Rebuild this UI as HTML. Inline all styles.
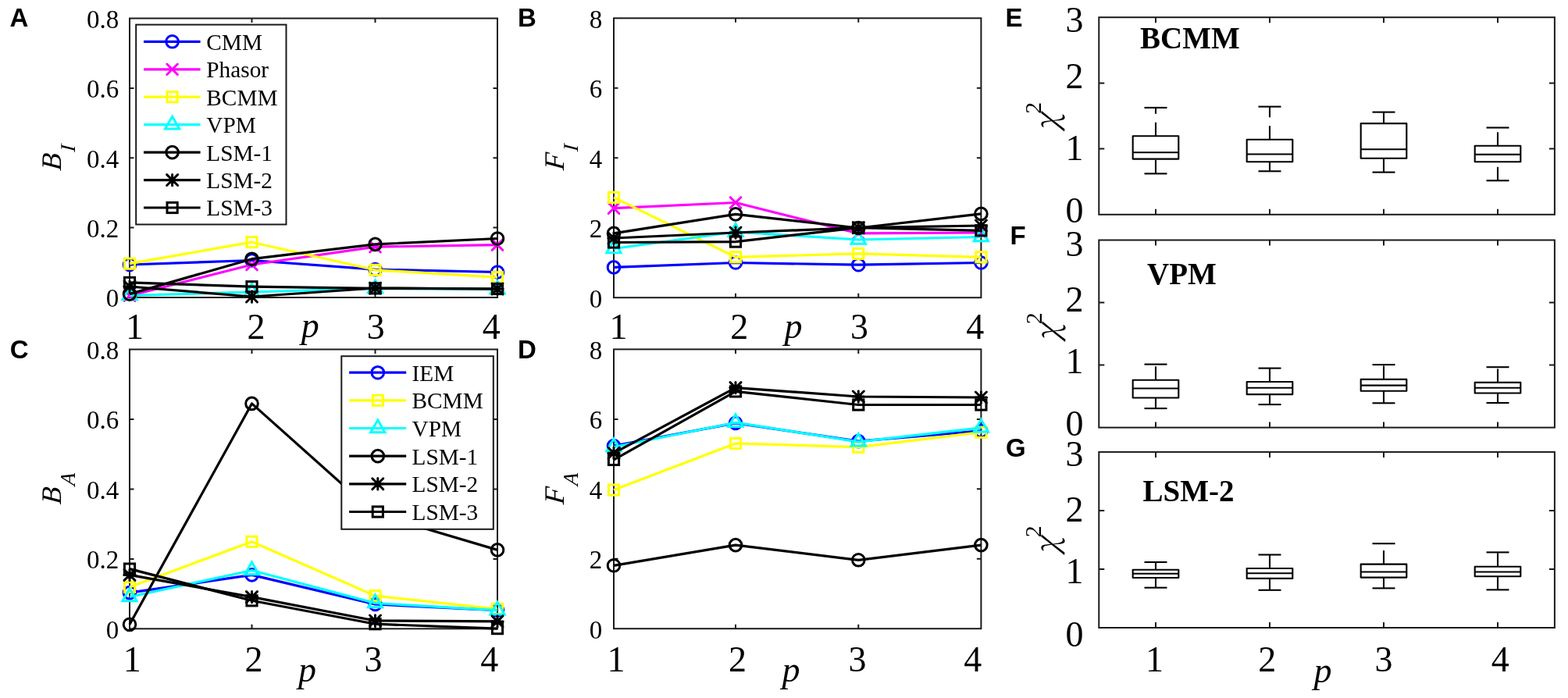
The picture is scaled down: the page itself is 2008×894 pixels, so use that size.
<!DOCTYPE html>
<html><head><meta charset="utf-8"><title>Figure</title>
<style>html,body{margin:0;padding:0;background:#fff;width:2008px;height:894px;overflow:hidden}svg{display:block}</style>
</head><body><svg width="2008" height="894" viewBox="0 0 2008 894"><text x="12.5" y="33.8" font-family="'Liberation Sans',Arial,sans-serif" font-size="33" font-weight="bold" font-style="normal" text-anchor="start" >A</text><text x="663.0" y="33.6" font-family="'Liberation Sans',Arial,sans-serif" font-size="33" font-weight="bold" font-style="normal" text-anchor="start" >B</text><text x="12.8" y="458.5" font-family="'Liberation Sans',Arial,sans-serif" font-size="33" font-weight="bold" font-style="normal" text-anchor="start" >C</text><text x="663.1" y="458.7" font-family="'Liberation Sans',Arial,sans-serif" font-size="33" font-weight="bold" font-style="normal" text-anchor="start" >D</text><text x="1287.5" y="33.6" font-family="'Liberation Sans',Arial,sans-serif" font-size="33" font-weight="bold" font-style="normal" text-anchor="start" >E</text><text x="1293.6" y="312.7" font-family="'Liberation Sans',Arial,sans-serif" font-size="33" font-weight="bold" font-style="normal" text-anchor="start" >F</text><text x="1288.0" y="585.2" font-family="'Liberation Sans',Arial,sans-serif" font-size="33" font-weight="bold" font-style="normal" text-anchor="start" >G</text><rect x="166" y="23.5" width="471" height="357.5" fill="none" stroke="#1a1a1a" stroke-width="2.0"/><path d="M166,291.6h5.5M637,291.6h-5.5M166,202.2h5.5M637,202.2h-5.5M166,112.9h5.5M637,112.9h-5.5M322.5,381v-5.5M322.5,23.5v5.5M480.5,381v-5.5M480.5,23.5v5.5" stroke="#1a1a1a" stroke-width="2.0" fill="none"/><rect x="786" y="23.3" width="470.4000000000001" height="357.9" fill="none" stroke="#1a1a1a" stroke-width="2.0"/><path d="M786,291.7h5.5M1256.4,291.7h-5.5M786,202.2h5.5M1256.4,202.2h-5.5M786,112.8h5.5M1256.4,112.8h-5.5M942.0,381.2v-5.5M942.0,23.3v5.5M1099.3,381.2v-5.5M1099.3,23.3v5.5" stroke="#1a1a1a" stroke-width="2.0" fill="none"/><rect x="166" y="447.5" width="471" height="357.79999999999995" fill="none" stroke="#1a1a1a" stroke-width="2.0"/><path d="M166,715.9h5.5M637,715.9h-5.5M166,626.4h5.5M637,626.4h-5.5M166,537.0h5.5M637,537.0h-5.5M322.5,805.3v-5.5M322.5,447.5v5.5M480.5,805.3v-5.5M480.5,447.5v5.5" stroke="#1a1a1a" stroke-width="2.0" fill="none"/><rect x="786" y="447.4" width="470.4000000000001" height="357.80000000000007" fill="none" stroke="#1a1a1a" stroke-width="2.0"/><path d="M786,715.8h5.5M1256.4,715.8h-5.5M786,626.3h5.5M1256.4,626.3h-5.5M786,536.9h5.5M1256.4,536.9h-5.5M942.0,805.2v-5.5M942.0,447.4v5.5M1099.3,805.2v-5.5M1099.3,447.4v5.5" stroke="#1a1a1a" stroke-width="2.0" fill="none"/><defs><clipPath id="cA"><rect x="160" y="0" width="490" height="395"/></clipPath></defs><g><polyline points="166.0,339.0 322.5,333.5 480.5,345.1 637.0,348.5" fill="none" stroke="#0000ff" stroke-width="3.2" stroke-linejoin="round"/><circle cx="166.0" cy="339.0" r="7.8" fill="none" stroke="#0000ff" stroke-width="3.0"/><circle cx="322.5" cy="333.5" r="7.8" fill="none" stroke="#0000ff" stroke-width="3.0"/><circle cx="480.5" cy="345.1" r="7.8" fill="none" stroke="#0000ff" stroke-width="3.0"/><circle cx="637.0" cy="348.5" r="7.8" fill="none" stroke="#0000ff" stroke-width="3.0"/><polyline points="166.0,378.7 322.5,339.0 480.5,316.2 637.0,313.6" fill="none" stroke="#ff00ff" stroke-width="3.2" stroke-linejoin="round"/><path d="M159.2,371.9L172.8,385.5M159.2,385.5L172.8,371.9" stroke="#ff00ff" stroke-width="3.0" fill="none" stroke-linecap="round"/><path d="M315.7,332.2L329.3,345.8M315.7,345.8L329.3,332.2" stroke="#ff00ff" stroke-width="3.0" fill="none" stroke-linecap="round"/><path d="M473.7,309.4L487.3,323.0M473.7,323.0L487.3,309.4" stroke="#ff00ff" stroke-width="3.0" fill="none" stroke-linecap="round"/><path d="M630.2,306.8L643.8,320.4M630.2,320.4L643.8,306.8" stroke="#ff00ff" stroke-width="3.0" fill="none" stroke-linecap="round"/><polyline points="166.0,337.7 322.5,310.2 480.5,345.8 637.0,355.2" fill="none" stroke="#ffff00" stroke-width="3.2" stroke-linejoin="round"/><rect x="159.4" y="331.1" width="13.2" height="13.2" fill="none" stroke="#ffff00" stroke-width="3.0"/><rect x="315.9" y="303.6" width="13.2" height="13.2" fill="none" stroke="#ffff00" stroke-width="3.0"/><rect x="473.9" y="339.2" width="13.2" height="13.2" fill="none" stroke="#ffff00" stroke-width="3.0"/><rect x="630.4" y="348.6" width="13.2" height="13.2" fill="none" stroke="#ffff00" stroke-width="3.0"/><polyline points="166.0,378.5 322.5,374.0 480.5,369.5 637.0,370.5" fill="none" stroke="#00ffff" stroke-width="3.2" stroke-linejoin="round"/><polygon points="166.0,368.0 175.1,383.8 156.9,383.8" fill="none" stroke="#00ffff" stroke-width="3.0" stroke-linejoin="miter"/><polygon points="322.5,363.5 331.6,379.2 313.4,379.2" fill="none" stroke="#00ffff" stroke-width="3.0" stroke-linejoin="miter"/><polygon points="480.5,359.0 489.6,374.8 471.4,374.8" fill="none" stroke="#00ffff" stroke-width="3.0" stroke-linejoin="miter"/><polygon points="637.0,360.0 646.1,375.8 627.9,375.8" fill="none" stroke="#00ffff" stroke-width="3.0" stroke-linejoin="miter"/><polyline points="166.0,376.6 322.5,331.7 480.5,312.9 637.0,305.5" fill="none" stroke="#000000" stroke-width="3.2" stroke-linejoin="round"/><circle cx="166.0" cy="376.6" r="7.8" fill="none" stroke="#000000" stroke-width="3.0"/><circle cx="322.5" cy="331.7" r="7.8" fill="none" stroke="#000000" stroke-width="3.0"/><circle cx="480.5" cy="312.9" r="7.8" fill="none" stroke="#000000" stroke-width="3.0"/><circle cx="637.0" cy="305.5" r="7.8" fill="none" stroke="#000000" stroke-width="3.0"/><polyline points="166.0,367.0 322.5,380.0 480.5,369.0 637.0,370.0" fill="none" stroke="#000000" stroke-width="3.2" stroke-linejoin="round"/><path d="M158.8,367.0L173.2,367.0M166.0,359.8L166.0,374.2M159.0,360.0L173.0,374.0M159.0,374.0L173.0,360.0" stroke="#000000" stroke-width="3.0" fill="none" stroke-linecap="round"/><path d="M315.3,380.0L329.7,380.0M322.5,372.8L322.5,387.2M315.5,373.0L329.5,387.0M315.5,387.0L329.5,373.0" stroke="#000000" stroke-width="3.0" fill="none" stroke-linecap="round"/><path d="M473.3,369.0L487.7,369.0M480.5,361.8L480.5,376.2M473.5,362.0L487.5,376.0M473.5,376.0L487.5,362.0" stroke="#000000" stroke-width="3.0" fill="none" stroke-linecap="round"/><path d="M629.8,370.0L644.2,370.0M637.0,362.8L637.0,377.2M630.0,363.0L644.0,377.0M630.0,377.0L644.0,363.0" stroke="#000000" stroke-width="3.0" fill="none" stroke-linecap="round"/><polyline points="166.0,361.9 322.5,367.2 480.5,369.3 637.0,370.0" fill="none" stroke="#000000" stroke-width="3.2" stroke-linejoin="round"/><rect x="159.4" y="355.3" width="13.2" height="13.2" fill="none" stroke="#000000" stroke-width="3.0"/><rect x="315.9" y="360.6" width="13.2" height="13.2" fill="none" stroke="#000000" stroke-width="3.0"/><rect x="473.9" y="362.7" width="13.2" height="13.2" fill="none" stroke="#000000" stroke-width="3.0"/><rect x="630.4" y="363.4" width="13.2" height="13.2" fill="none" stroke="#000000" stroke-width="3.0"/></g><g><polyline points="786.0,342.4 942.0,336.5 1099.3,339.2 1256.4,336.5" fill="none" stroke="#0000ff" stroke-width="3.2" stroke-linejoin="round"/><circle cx="786.0" cy="342.4" r="7.8" fill="none" stroke="#0000ff" stroke-width="3.0"/><circle cx="942.0" cy="336.5" r="7.8" fill="none" stroke="#0000ff" stroke-width="3.0"/><circle cx="1099.3" cy="339.2" r="7.8" fill="none" stroke="#0000ff" stroke-width="3.0"/><circle cx="1256.4" cy="336.5" r="7.8" fill="none" stroke="#0000ff" stroke-width="3.0"/><polyline points="786.0,266.7 942.0,259.5 1099.3,298.9 1256.4,298.0" fill="none" stroke="#ff00ff" stroke-width="3.2" stroke-linejoin="round"/><path d="M779.2,259.9L792.8,273.5M779.2,273.5L792.8,259.9" stroke="#ff00ff" stroke-width="3.0" fill="none" stroke-linecap="round"/><path d="M935.2,252.7L948.8,266.3M935.2,266.3L948.8,252.7" stroke="#ff00ff" stroke-width="3.0" fill="none" stroke-linecap="round"/><path d="M1092.5,292.1L1106.1,305.7M1092.5,305.7L1106.1,292.1" stroke="#ff00ff" stroke-width="3.0" fill="none" stroke-linecap="round"/><path d="M1249.6,291.2L1263.2,304.8M1249.6,304.8L1263.2,291.2" stroke="#ff00ff" stroke-width="3.0" fill="none" stroke-linecap="round"/><polyline points="786.0,252.9 942.0,329.3 1099.3,324.9 1256.4,329.3" fill="none" stroke="#ffff00" stroke-width="3.2" stroke-linejoin="round"/><rect x="779.4" y="246.3" width="13.2" height="13.2" fill="none" stroke="#ffff00" stroke-width="3.0"/><rect x="935.4" y="322.7" width="13.2" height="13.2" fill="none" stroke="#ffff00" stroke-width="3.0"/><rect x="1092.7" y="318.3" width="13.2" height="13.2" fill="none" stroke="#ffff00" stroke-width="3.0"/><rect x="1249.8" y="322.7" width="13.2" height="13.2" fill="none" stroke="#ffff00" stroke-width="3.0"/><polyline points="786.0,318.5 942.0,297.0 1099.3,307.0 1256.4,303.5" fill="none" stroke="#00ffff" stroke-width="3.2" stroke-linejoin="round"/><polygon points="786.0,308.0 795.1,323.8 776.9,323.8" fill="none" stroke="#00ffff" stroke-width="3.0" stroke-linejoin="miter"/><polygon points="942.0,286.5 951.1,302.2 932.9,302.2" fill="none" stroke="#00ffff" stroke-width="3.0" stroke-linejoin="miter"/><polygon points="1099.3,296.5 1108.4,312.2 1090.2,312.2" fill="none" stroke="#00ffff" stroke-width="3.0" stroke-linejoin="miter"/><polygon points="1256.4,293.0 1265.5,308.8 1247.3,308.8" fill="none" stroke="#00ffff" stroke-width="3.0" stroke-linejoin="miter"/><polyline points="786.0,298.9 942.0,274.4 1099.3,292.0 1256.4,273.9" fill="none" stroke="#000000" stroke-width="3.2" stroke-linejoin="round"/><circle cx="786.0" cy="298.9" r="7.8" fill="none" stroke="#000000" stroke-width="3.0"/><circle cx="942.0" cy="274.4" r="7.8" fill="none" stroke="#000000" stroke-width="3.0"/><circle cx="1099.3" cy="292.0" r="7.8" fill="none" stroke="#000000" stroke-width="3.0"/><circle cx="1256.4" cy="273.9" r="7.8" fill="none" stroke="#000000" stroke-width="3.0"/><polyline points="786.0,305.0 942.0,298.0 1099.3,291.7 1256.4,289.0" fill="none" stroke="#000000" stroke-width="3.2" stroke-linejoin="round"/><path d="M778.8,305.0L793.2,305.0M786.0,297.8L786.0,312.2M779.0,298.0L793.0,312.0M779.0,312.0L793.0,298.0" stroke="#000000" stroke-width="3.0" fill="none" stroke-linecap="round"/><path d="M934.8,298.0L949.2,298.0M942.0,290.8L942.0,305.2M935.0,291.0L949.0,305.0M935.0,305.0L949.0,291.0" stroke="#000000" stroke-width="3.0" fill="none" stroke-linecap="round"/><path d="M1092.1,291.7L1106.5,291.7M1099.3,284.5L1099.3,298.9M1092.3,284.7L1106.3,298.7M1092.3,298.7L1106.3,284.7" stroke="#000000" stroke-width="3.0" fill="none" stroke-linecap="round"/><path d="M1249.2,289.0L1263.6,289.0M1256.4,281.8L1256.4,296.2M1249.4,282.0L1263.4,296.0M1249.4,296.0L1263.4,282.0" stroke="#000000" stroke-width="3.0" fill="none" stroke-linecap="round"/><polyline points="786.0,310.5 942.0,309.6 1099.3,291.7 1256.4,295.3" fill="none" stroke="#000000" stroke-width="3.2" stroke-linejoin="round"/><rect x="779.4" y="303.9" width="13.2" height="13.2" fill="none" stroke="#000000" stroke-width="3.0"/><rect x="935.4" y="303.0" width="13.2" height="13.2" fill="none" stroke="#000000" stroke-width="3.0"/><rect x="1092.7" y="285.1" width="13.2" height="13.2" fill="none" stroke="#000000" stroke-width="3.0"/><rect x="1249.8" y="288.7" width="13.2" height="13.2" fill="none" stroke="#000000" stroke-width="3.0"/></g><g><polyline points="166.0,759.1 322.5,736.4 480.5,774.0 637.0,781.6" fill="none" stroke="#0000ff" stroke-width="3.2" stroke-linejoin="round"/><circle cx="166.0" cy="759.1" r="7.8" fill="none" stroke="#0000ff" stroke-width="3.0"/><circle cx="322.5" cy="736.4" r="7.8" fill="none" stroke="#0000ff" stroke-width="3.0"/><circle cx="480.5" cy="774.0" r="7.8" fill="none" stroke="#0000ff" stroke-width="3.0"/><circle cx="637.0" cy="781.6" r="7.8" fill="none" stroke="#0000ff" stroke-width="3.0"/><polyline points="166.0,752.0 322.5,693.8 480.5,763.1 637.0,780.0" fill="none" stroke="#ffff00" stroke-width="3.2" stroke-linejoin="round"/><rect x="159.4" y="745.4" width="13.2" height="13.2" fill="none" stroke="#ffff00" stroke-width="3.0"/><rect x="315.9" y="687.2" width="13.2" height="13.2" fill="none" stroke="#ffff00" stroke-width="3.0"/><rect x="473.9" y="756.5" width="13.2" height="13.2" fill="none" stroke="#ffff00" stroke-width="3.0"/><rect x="630.4" y="773.4" width="13.2" height="13.2" fill="none" stroke="#ffff00" stroke-width="3.0"/><polyline points="166.0,764.5 322.5,730.5 480.5,772.5 637.0,781.7" fill="none" stroke="#00ffff" stroke-width="3.2" stroke-linejoin="round"/><polygon points="166.0,754.0 175.1,769.8 156.9,769.8" fill="none" stroke="#00ffff" stroke-width="3.0" stroke-linejoin="miter"/><polygon points="322.5,720.0 331.6,735.8 313.4,735.8" fill="none" stroke="#00ffff" stroke-width="3.0" stroke-linejoin="miter"/><polygon points="480.5,762.0 489.6,777.8 471.4,777.8" fill="none" stroke="#00ffff" stroke-width="3.0" stroke-linejoin="miter"/><polygon points="637.0,771.2 646.1,787.0 627.9,787.0" fill="none" stroke="#00ffff" stroke-width="3.0" stroke-linejoin="miter"/><polyline points="166.0,799.8 322.5,516.9 480.5,658.0 637.0,704.4" fill="none" stroke="#000000" stroke-width="3.2" stroke-linejoin="round"/><circle cx="166.0" cy="799.8" r="7.8" fill="none" stroke="#000000" stroke-width="3.0"/><circle cx="322.5" cy="516.9" r="7.8" fill="none" stroke="#000000" stroke-width="3.0"/><circle cx="480.5" cy="658.0" r="7.8" fill="none" stroke="#000000" stroke-width="3.0"/><circle cx="637.0" cy="704.4" r="7.8" fill="none" stroke="#000000" stroke-width="3.0"/><polyline points="166.0,736.4 322.5,764.6 480.5,795.0 637.0,795.9" fill="none" stroke="#000000" stroke-width="3.2" stroke-linejoin="round"/><path d="M158.8,736.4L173.2,736.4M166.0,729.2L166.0,743.6M159.0,729.4L173.0,743.4M159.0,743.4L173.0,729.4" stroke="#000000" stroke-width="3.0" fill="none" stroke-linecap="round"/><path d="M315.3,764.6L329.7,764.6M322.5,757.4L322.5,771.8M315.5,757.6L329.5,771.6M315.5,771.6L329.5,757.6" stroke="#000000" stroke-width="3.0" fill="none" stroke-linecap="round"/><path d="M473.3,795.0L487.7,795.0M480.5,787.8L480.5,802.2M473.5,788.0L487.5,802.0M473.5,802.0L487.5,788.0" stroke="#000000" stroke-width="3.0" fill="none" stroke-linecap="round"/><path d="M629.8,795.9L644.2,795.9M637.0,788.7L637.0,803.1M630.0,788.9L644.0,802.9M630.0,802.9L644.0,788.9" stroke="#000000" stroke-width="3.0" fill="none" stroke-linecap="round"/><polyline points="166.0,728.6 322.5,769.3 480.5,799.2 637.0,805.1" fill="none" stroke="#000000" stroke-width="3.2" stroke-linejoin="round"/><rect x="159.4" y="722.0" width="13.2" height="13.2" fill="none" stroke="#000000" stroke-width="3.0"/><rect x="315.9" y="762.7" width="13.2" height="13.2" fill="none" stroke="#000000" stroke-width="3.0"/><rect x="473.9" y="792.6" width="13.2" height="13.2" fill="none" stroke="#000000" stroke-width="3.0"/><rect x="630.4" y="798.5" width="13.2" height="13.2" fill="none" stroke="#000000" stroke-width="3.0"/></g><g><polyline points="786.0,571.0 942.0,541.9 1099.3,565.1 1256.4,551.8" fill="none" stroke="#0000ff" stroke-width="3.2" stroke-linejoin="round"/><circle cx="786.0" cy="571.0" r="7.8" fill="none" stroke="#0000ff" stroke-width="3.0"/><circle cx="942.0" cy="541.9" r="7.8" fill="none" stroke="#0000ff" stroke-width="3.0"/><circle cx="1099.3" cy="565.1" r="7.8" fill="none" stroke="#0000ff" stroke-width="3.0"/><circle cx="1256.4" cy="551.8" r="7.8" fill="none" stroke="#0000ff" stroke-width="3.0"/><polyline points="786.0,627.5 942.0,567.9 1099.3,572.7 1256.4,553.7" fill="none" stroke="#ffff00" stroke-width="3.2" stroke-linejoin="round"/><rect x="779.4" y="620.9" width="13.2" height="13.2" fill="none" stroke="#ffff00" stroke-width="3.0"/><rect x="935.4" y="561.3" width="13.2" height="13.2" fill="none" stroke="#ffff00" stroke-width="3.0"/><rect x="1092.7" y="566.1" width="13.2" height="13.2" fill="none" stroke="#ffff00" stroke-width="3.0"/><rect x="1249.8" y="547.1" width="13.2" height="13.2" fill="none" stroke="#ffff00" stroke-width="3.0"/><polyline points="786.0,572.5 942.0,541.2 1099.3,565.9 1256.4,547.8" fill="none" stroke="#00ffff" stroke-width="3.2" stroke-linejoin="round"/><polygon points="786.0,562.0 795.1,577.8 776.9,577.8" fill="none" stroke="#00ffff" stroke-width="3.0" stroke-linejoin="miter"/><polygon points="942.0,530.7 951.1,546.5 932.9,546.5" fill="none" stroke="#00ffff" stroke-width="3.0" stroke-linejoin="miter"/><polygon points="1099.3,555.4 1108.4,571.1 1090.2,571.1" fill="none" stroke="#00ffff" stroke-width="3.0" stroke-linejoin="miter"/><polygon points="1256.4,537.3 1265.5,553.0 1247.3,553.0" fill="none" stroke="#00ffff" stroke-width="3.0" stroke-linejoin="miter"/><polyline points="786.0,724.3 942.0,698.1 1099.3,717.3 1256.4,698.1" fill="none" stroke="#000000" stroke-width="3.2" stroke-linejoin="round"/><circle cx="786.0" cy="724.3" r="7.8" fill="none" stroke="#000000" stroke-width="3.0"/><circle cx="942.0" cy="698.1" r="7.8" fill="none" stroke="#000000" stroke-width="3.0"/><circle cx="1099.3" cy="717.3" r="7.8" fill="none" stroke="#000000" stroke-width="3.0"/><circle cx="1256.4" cy="698.1" r="7.8" fill="none" stroke="#000000" stroke-width="3.0"/><polyline points="786.0,580.3 942.0,496.6 1099.3,508.0 1256.4,509.0" fill="none" stroke="#000000" stroke-width="3.2" stroke-linejoin="round"/><path d="M778.8,580.3L793.2,580.3M786.0,573.1L786.0,587.5M779.0,573.3L793.0,587.3M779.0,587.3L793.0,573.3" stroke="#000000" stroke-width="3.0" fill="none" stroke-linecap="round"/><path d="M934.8,496.6L949.2,496.6M942.0,489.4L942.0,503.8M935.0,489.6L949.0,503.6M935.0,503.6L949.0,489.6" stroke="#000000" stroke-width="3.0" fill="none" stroke-linecap="round"/><path d="M1092.1,508.0L1106.5,508.0M1099.3,500.8L1099.3,515.2M1092.3,501.0L1106.3,515.0M1092.3,515.0L1106.3,501.0" stroke="#000000" stroke-width="3.0" fill="none" stroke-linecap="round"/><path d="M1249.2,509.0L1263.6,509.0M1256.4,501.8L1256.4,516.2M1249.4,502.0L1263.4,516.0M1249.4,516.0L1263.4,502.0" stroke="#000000" stroke-width="3.0" fill="none" stroke-linecap="round"/><polyline points="786.0,588.9 942.0,501.4 1099.3,518.5 1256.4,518.5" fill="none" stroke="#000000" stroke-width="3.2" stroke-linejoin="round"/><rect x="779.4" y="582.3" width="13.2" height="13.2" fill="none" stroke="#000000" stroke-width="3.0"/><rect x="935.4" y="494.8" width="13.2" height="13.2" fill="none" stroke="#000000" stroke-width="3.0"/><rect x="1092.7" y="511.9" width="13.2" height="13.2" fill="none" stroke="#000000" stroke-width="3.0"/><rect x="1249.8" y="511.9" width="13.2" height="13.2" fill="none" stroke="#000000" stroke-width="3.0"/></g><rect x="174.2" y="31.6" width="192.3" height="255.9" fill="#fff" stroke="#1a1a1a" stroke-width="2.0"/><line x1="184" y1="53.3" x2="256.6" y2="53.3" stroke="#0000ff" stroke-width="3.2"/><circle cx="220.6" cy="53.3" r="7.8" fill="none" stroke="#0000ff" stroke-width="3.0"/><text x="264.3" y="63.7" font-family="'Liberation Serif','Times New Roman',serif" font-size="29.3" font-weight="normal" font-style="normal" text-anchor="start" >CMM</text><line x1="184" y1="88.8" x2="256.6" y2="88.8" stroke="#ff00ff" stroke-width="3.2"/><path d="M213.8,82.0L227.4,95.5M213.8,95.5L227.4,82.0" stroke="#ff00ff" stroke-width="3.0" fill="none" stroke-linecap="round"/><text x="264.3" y="99.2" font-family="'Liberation Serif','Times New Roman',serif" font-size="29.3" font-weight="normal" font-style="normal" text-anchor="start" >Phasor</text><line x1="184" y1="124.2" x2="256.6" y2="124.2" stroke="#ffff00" stroke-width="3.2"/><rect x="214.0" y="117.6" width="13.2" height="13.2" fill="none" stroke="#ffff00" stroke-width="3.0"/><text x="264.3" y="134.6" font-family="'Liberation Serif','Times New Roman',serif" font-size="29.3" font-weight="normal" font-style="normal" text-anchor="start" >BCMM</text><line x1="184" y1="159.7" x2="256.6" y2="159.7" stroke="#00ffff" stroke-width="3.2"/><polygon points="220.6,149.2 229.7,164.9 211.5,164.9" fill="none" stroke="#00ffff" stroke-width="3.0" stroke-linejoin="miter"/><text x="264.3" y="170.1" font-family="'Liberation Serif','Times New Roman',serif" font-size="29.3" font-weight="normal" font-style="normal" text-anchor="start" >VPM</text><line x1="184" y1="195.1" x2="256.6" y2="195.1" stroke="#000000" stroke-width="3.2"/><circle cx="220.6" cy="195.1" r="7.8" fill="none" stroke="#000000" stroke-width="3.0"/><text x="264.3" y="205.5" font-family="'Liberation Serif','Times New Roman',serif" font-size="29.3" font-weight="normal" font-style="normal" text-anchor="start" >LSM-1</text><line x1="184" y1="230.6" x2="256.6" y2="230.6" stroke="#000000" stroke-width="3.2"/><path d="M213.4,230.6L227.8,230.6M220.6,223.4L220.6,237.8M213.6,223.6L227.6,237.5M213.6,237.5L227.6,223.6" stroke="#000000" stroke-width="3.0" fill="none" stroke-linecap="round"/><text x="264.3" y="241.0" font-family="'Liberation Serif','Times New Roman',serif" font-size="29.3" font-weight="normal" font-style="normal" text-anchor="start" >LSM-2</text><line x1="184" y1="266.0" x2="256.6" y2="266.0" stroke="#000000" stroke-width="3.2"/><rect x="214.0" y="259.4" width="13.2" height="13.2" fill="none" stroke="#000000" stroke-width="3.0"/><text x="264.3" y="276.4" font-family="'Liberation Serif','Times New Roman',serif" font-size="29.3" font-weight="normal" font-style="normal" text-anchor="start" >LSM-3</text><rect x="437.3" y="456.2" width="194.49999999999994" height="221.59999999999997" fill="#fff" stroke="#1a1a1a" stroke-width="2.0"/><line x1="447.1" y1="477.2" x2="520.2" y2="477.2" stroke="#0000ff" stroke-width="3.2"/><circle cx="483.8" cy="477.2" r="7.8" fill="none" stroke="#0000ff" stroke-width="3.0"/><text x="527.5" y="487.6" font-family="'Liberation Serif','Times New Roman',serif" font-size="29.3" font-weight="normal" font-style="normal" text-anchor="start" >IEM</text><line x1="447.1" y1="512.9" x2="520.2" y2="512.9" stroke="#ffff00" stroke-width="3.2"/><rect x="477.2" y="506.2" width="13.2" height="13.2" fill="none" stroke="#ffff00" stroke-width="3.0"/><text x="527.5" y="523.2" font-family="'Liberation Serif','Times New Roman',serif" font-size="29.3" font-weight="normal" font-style="normal" text-anchor="start" >BCMM</text><line x1="447.1" y1="548.5" x2="520.2" y2="548.5" stroke="#00ffff" stroke-width="3.2"/><polygon points="483.8,538.0 492.9,553.8 474.7,553.8" fill="none" stroke="#00ffff" stroke-width="3.0" stroke-linejoin="miter"/><text x="527.5" y="558.9" font-family="'Liberation Serif','Times New Roman',serif" font-size="29.3" font-weight="normal" font-style="normal" text-anchor="start" >VPM</text><line x1="447.1" y1="584.1" x2="520.2" y2="584.1" stroke="#000000" stroke-width="3.2"/><circle cx="483.8" cy="584.1" r="7.8" fill="none" stroke="#000000" stroke-width="3.0"/><text x="527.5" y="594.5" font-family="'Liberation Serif','Times New Roman',serif" font-size="29.3" font-weight="normal" font-style="normal" text-anchor="start" >LSM-1</text><line x1="447.1" y1="619.8" x2="520.2" y2="619.8" stroke="#000000" stroke-width="3.2"/><path d="M476.6,619.8L491.0,619.8M483.8,612.6L483.8,627.0M476.8,612.8L490.8,626.8M476.8,626.8L490.8,612.8" stroke="#000000" stroke-width="3.0" fill="none" stroke-linecap="round"/><text x="527.5" y="630.2" font-family="'Liberation Serif','Times New Roman',serif" font-size="29.3" font-weight="normal" font-style="normal" text-anchor="start" >LSM-2</text><line x1="447.1" y1="655.5" x2="520.2" y2="655.5" stroke="#000000" stroke-width="3.2"/><rect x="477.2" y="648.9" width="13.2" height="13.2" fill="none" stroke="#000000" stroke-width="3.0"/><text x="527.5" y="665.9" font-family="'Liberation Serif','Times New Roman',serif" font-size="29.3" font-weight="normal" font-style="normal" text-anchor="start" >LSM-3</text><text x="152.2" y="393.4" font-family="'Liberation Serif','Times New Roman',serif" font-size="33" font-weight="normal" font-style="normal" text-anchor="end" >0</text><text x="152.2" y="304.0" font-family="'Liberation Serif','Times New Roman',serif" font-size="33" font-weight="normal" font-style="normal" text-anchor="end" >0.2</text><text x="152.2" y="214.6" font-family="'Liberation Serif','Times New Roman',serif" font-size="33" font-weight="normal" font-style="normal" text-anchor="end" >0.4</text><text x="152.2" y="125.2" font-family="'Liberation Serif','Times New Roman',serif" font-size="33" font-weight="normal" font-style="normal" text-anchor="end" >0.6</text><text x="152.2" y="35.9" font-family="'Liberation Serif','Times New Roman',serif" font-size="33" font-weight="normal" font-style="normal" text-anchor="end" >0.8</text><text x="152.2" y="817.7" font-family="'Liberation Serif','Times New Roman',serif" font-size="33" font-weight="normal" font-style="normal" text-anchor="end" >0</text><text x="152.2" y="728.2" font-family="'Liberation Serif','Times New Roman',serif" font-size="33" font-weight="normal" font-style="normal" text-anchor="end" >0.2</text><text x="152.2" y="638.8" font-family="'Liberation Serif','Times New Roman',serif" font-size="33" font-weight="normal" font-style="normal" text-anchor="end" >0.4</text><text x="152.2" y="549.3" font-family="'Liberation Serif','Times New Roman',serif" font-size="33" font-weight="normal" font-style="normal" text-anchor="end" >0.6</text><text x="152.2" y="459.9" font-family="'Liberation Serif','Times New Roman',serif" font-size="33" font-weight="normal" font-style="normal" text-anchor="end" >0.8</text><text x="771.3" y="393.6" font-family="'Liberation Serif','Times New Roman',serif" font-size="33" font-weight="normal" font-style="normal" text-anchor="end" >0</text><text x="771.3" y="304.1" font-family="'Liberation Serif','Times New Roman',serif" font-size="33" font-weight="normal" font-style="normal" text-anchor="end" >2</text><text x="771.3" y="214.6" font-family="'Liberation Serif','Times New Roman',serif" font-size="33" font-weight="normal" font-style="normal" text-anchor="end" >4</text><text x="771.3" y="125.1" font-family="'Liberation Serif','Times New Roman',serif" font-size="33" font-weight="normal" font-style="normal" text-anchor="end" >6</text><text x="771.3" y="35.7" font-family="'Liberation Serif','Times New Roman',serif" font-size="33" font-weight="normal" font-style="normal" text-anchor="end" >8</text><text x="771.3" y="817.6" font-family="'Liberation Serif','Times New Roman',serif" font-size="33" font-weight="normal" font-style="normal" text-anchor="end" >0</text><text x="771.3" y="728.1" font-family="'Liberation Serif','Times New Roman',serif" font-size="33" font-weight="normal" font-style="normal" text-anchor="end" >2</text><text x="771.3" y="638.7" font-family="'Liberation Serif','Times New Roman',serif" font-size="33" font-weight="normal" font-style="normal" text-anchor="end" >4</text><text x="771.3" y="549.2" font-family="'Liberation Serif','Times New Roman',serif" font-size="33" font-weight="normal" font-style="normal" text-anchor="end" >6</text><text x="771.3" y="459.8" font-family="'Liberation Serif','Times New Roman',serif" font-size="33" font-weight="normal" font-style="normal" text-anchor="end" >8</text><text x="172.4" y="433.6" font-family="'Liberation Serif','Times New Roman',serif" font-size="46" font-weight="normal" font-style="normal" text-anchor="middle" >1</text><text x="328.0" y="433.6" font-family="'Liberation Serif','Times New Roman',serif" font-size="46" font-weight="normal" font-style="normal" text-anchor="middle" >2</text><text x="481.2" y="433.6" font-family="'Liberation Serif','Times New Roman',serif" font-size="46" font-weight="normal" font-style="normal" text-anchor="middle" >3</text><text x="629.3" y="433.6" font-family="'Liberation Serif','Times New Roman',serif" font-size="46" font-weight="normal" font-style="normal" text-anchor="middle" >4</text><text x="385.8" y="432.0" font-family="'Liberation Serif','Times New Roman',serif" font-size="46" font-weight="normal" font-style="italic" text-anchor="start" >p</text><text x="169.3" y="859.8" font-family="'Liberation Serif','Times New Roman',serif" font-size="46" font-weight="normal" font-style="normal" text-anchor="middle" >1</text><text x="325.1" y="859.8" font-family="'Liberation Serif','Times New Roman',serif" font-size="46" font-weight="normal" font-style="normal" text-anchor="middle" >2</text><text x="478.0" y="859.8" font-family="'Liberation Serif','Times New Roman',serif" font-size="46" font-weight="normal" font-style="normal" text-anchor="middle" >3</text><text x="626.8" y="859.8" font-family="'Liberation Serif','Times New Roman',serif" font-size="46" font-weight="normal" font-style="normal" text-anchor="middle" >4</text><text x="382.0" y="873.1" font-family="'Liberation Serif','Times New Roman',serif" font-size="46" font-weight="normal" font-style="italic" text-anchor="start" >p</text><text x="792.0" y="433.6" font-family="'Liberation Serif','Times New Roman',serif" font-size="46" font-weight="normal" font-style="normal" text-anchor="middle" >1</text><text x="946.8" y="433.6" font-family="'Liberation Serif','Times New Roman',serif" font-size="46" font-weight="normal" font-style="normal" text-anchor="middle" >2</text><text x="1100.5" y="433.6" font-family="'Liberation Serif','Times New Roman',serif" font-size="46" font-weight="normal" font-style="normal" text-anchor="middle" >3</text><text x="1248.7" y="433.6" font-family="'Liberation Serif','Times New Roman',serif" font-size="46" font-weight="normal" font-style="normal" text-anchor="middle" >4</text><text x="1004.6" y="433.0" font-family="'Liberation Serif','Times New Roman',serif" font-size="46" font-weight="normal" font-style="italic" text-anchor="start" >p</text><text x="789.0" y="859.8" font-family="'Liberation Serif','Times New Roman',serif" font-size="46" font-weight="normal" font-style="normal" text-anchor="middle" >1</text><text x="944.5" y="859.8" font-family="'Liberation Serif','Times New Roman',serif" font-size="46" font-weight="normal" font-style="normal" text-anchor="middle" >2</text><text x="1098.0" y="859.8" font-family="'Liberation Serif','Times New Roman',serif" font-size="46" font-weight="normal" font-style="normal" text-anchor="middle" >3</text><text x="1245.8" y="859.8" font-family="'Liberation Serif','Times New Roman',serif" font-size="46" font-weight="normal" font-style="normal" text-anchor="middle" >4</text><text x="1001.6" y="873.1" font-family="'Liberation Serif','Times New Roman',serif" font-size="46" font-weight="normal" font-style="italic" text-anchor="start" >p</text><text transform="translate(78,219) rotate(-90) skewX(-5)" font-family="'Liberation Serif','Times New Roman',serif" font-size="36" font-style="italic">B<tspan font-size="27" dx="3.5" dy="17.7">I</tspan></text><text transform="translate(722,218.5) rotate(-90) skewX(-5)" font-family="'Liberation Serif','Times New Roman',serif" font-size="36" font-style="italic">F<tspan font-size="27" dx="3.5" dy="17.7">I</tspan></text><text transform="translate(78,646.5) rotate(-90) skewX(-5)" font-family="'Liberation Serif','Times New Roman',serif" font-size="36" font-style="italic">B<tspan font-size="27" dx="3.5" dy="17.7">A</tspan></text><text transform="translate(722,646.5) rotate(-90) skewX(-5)" font-family="'Liberation Serif','Times New Roman',serif" font-size="36" font-style="italic">F<tspan font-size="27" dx="3.5" dy="17.7">A</tspan></text><rect x="1407.3" y="22.2" width="583.6000000000001" height="252.60000000000002" fill="none" stroke="#1a1a1a" stroke-width="2.0"/><path d="M1407.3,190.6h7M1990.9,190.6h-7M1407.3,106.4h7M1990.9,106.4h-7M1480.0,274.8v-7M1480.0,22.2v7M1626.0,274.8v-7M1626.0,22.2v7M1772.0,274.8v-7M1772.0,22.2v7M1918.0,274.8v-7M1918.0,22.2v7" stroke="#1a1a1a" stroke-width="2.0" fill="none"/><text x="1387.5" y="41.4" font-family="'Liberation Serif','Times New Roman',serif" font-size="46" font-weight="normal" font-style="normal" text-anchor="end" >3</text><text x="1387.5" y="113.2" font-family="'Liberation Serif','Times New Roman',serif" font-size="46" font-weight="normal" font-style="normal" text-anchor="end" >2</text><text x="1387.5" y="204.5" font-family="'Liberation Serif','Times New Roman',serif" font-size="46" font-weight="normal" font-style="normal" text-anchor="end" >1</text><text x="1387.5" y="285.1" font-family="'Liberation Serif','Times New Roman',serif" font-size="46" font-weight="normal" font-style="normal" text-anchor="end" >0</text><rect x="1407.3" y="307.5" width="583.6000000000001" height="240.10000000000002" fill="none" stroke="#1a1a1a" stroke-width="2.0"/><path d="M1407.3,467.6h7M1990.9,467.6h-7M1407.3,387.5h7M1990.9,387.5h-7M1480.0,547.6v-7M1480.0,307.5v7M1626.0,547.6v-7M1626.0,307.5v7M1772.0,547.6v-7M1772.0,307.5v7M1918.0,547.6v-7M1918.0,307.5v7" stroke="#1a1a1a" stroke-width="2.0" fill="none"/><text x="1387.5" y="327.7" font-family="'Liberation Serif','Times New Roman',serif" font-size="46" font-weight="normal" font-style="normal" text-anchor="end" >3</text><text x="1387.5" y="398.6" font-family="'Liberation Serif','Times New Roman',serif" font-size="46" font-weight="normal" font-style="normal" text-anchor="end" >2</text><text x="1387.5" y="477.8" font-family="'Liberation Serif','Times New Roman',serif" font-size="46" font-weight="normal" font-style="normal" text-anchor="end" >1</text><text x="1387.5" y="558.4" font-family="'Liberation Serif','Times New Roman',serif" font-size="46" font-weight="normal" font-style="normal" text-anchor="end" >0</text><rect x="1407.3" y="578.9" width="583.6000000000001" height="225.10000000000002" fill="none" stroke="#1a1a1a" stroke-width="2.0"/><path d="M1407.3,729.0h7M1990.9,729.0h-7M1407.3,653.9h7M1990.9,653.9h-7M1480.0,804.0v-7M1480.0,578.9v7M1626.0,804.0v-7M1626.0,578.9v7M1772.0,804.0v-7M1772.0,578.9v7M1918.0,804.0v-7M1918.0,578.9v7" stroke="#1a1a1a" stroke-width="2.0" fill="none"/><text x="1387.5" y="596.8" font-family="'Liberation Serif','Times New Roman',serif" font-size="46" font-weight="normal" font-style="normal" text-anchor="end" >3</text><text x="1387.5" y="667.5" font-family="'Liberation Serif','Times New Roman',serif" font-size="46" font-weight="normal" font-style="normal" text-anchor="end" >2</text><text x="1387.5" y="746.5" font-family="'Liberation Serif','Times New Roman',serif" font-size="46" font-weight="normal" font-style="normal" text-anchor="end" >1</text><text x="1387.5" y="827.8" font-family="'Liberation Serif','Times New Roman',serif" font-size="46" font-weight="normal" font-style="normal" text-anchor="end" >0</text><rect x="1450.7" y="174.2" width="58.6" height="29.4" fill="none" stroke="#000000" stroke-width="2.1" stroke-linejoin="round"/><line x1="1450.7" y1="195.2" x2="1509.3" y2="195.2" stroke="#000000" stroke-width="2.1"/><line x1="1465.5" y1="137.9" x2="1494.5" y2="137.9" stroke="#000000" stroke-width="2.1"/><line x1="1465.5" y1="222.4" x2="1494.5" y2="222.4" stroke="#000000" stroke-width="2.1"/><line x1="1480" y1="174.2" x2="1480" y2="137.9" stroke="#000000" stroke-width="2.1" stroke-dasharray="17.5 11"/><line x1="1480" y1="222.4" x2="1480" y2="203.6" stroke="#000000" stroke-width="2.1" stroke-dasharray="17.5 11"/><rect x="1596.7" y="178.7" width="58.6" height="28.6" fill="none" stroke="#000000" stroke-width="2.1" stroke-linejoin="round"/><line x1="1596.7" y1="197.5" x2="1655.3" y2="197.5" stroke="#000000" stroke-width="2.1"/><line x1="1611.5" y1="136.6" x2="1640.5" y2="136.6" stroke="#000000" stroke-width="2.1"/><line x1="1611.5" y1="219.3" x2="1640.5" y2="219.3" stroke="#000000" stroke-width="2.1"/><line x1="1626" y1="178.7" x2="1626" y2="136.6" stroke="#000000" stroke-width="2.1" stroke-dasharray="17.5 11"/><line x1="1626" y1="219.3" x2="1626" y2="207.3" stroke="#000000" stroke-width="2.1" stroke-dasharray="17.5 11"/><rect x="1742.7" y="158.1" width="58.6" height="44.6" fill="none" stroke="#000000" stroke-width="2.1" stroke-linejoin="round"/><line x1="1742.7" y1="191.2" x2="1801.3" y2="191.2" stroke="#000000" stroke-width="2.1"/><line x1="1757.5" y1="143.6" x2="1786.5" y2="143.6" stroke="#000000" stroke-width="2.1"/><line x1="1757.5" y1="220.6" x2="1786.5" y2="220.6" stroke="#000000" stroke-width="2.1"/><line x1="1772" y1="158.1" x2="1772" y2="143.6" stroke="#000000" stroke-width="2.1" stroke-dasharray="17.5 11"/><line x1="1772" y1="220.6" x2="1772" y2="202.7" stroke="#000000" stroke-width="2.1" stroke-dasharray="17.5 11"/><rect x="1888.7" y="186.8" width="58.6" height="20.4" fill="none" stroke="#000000" stroke-width="2.1" stroke-linejoin="round"/><line x1="1888.7" y1="197.9" x2="1947.3" y2="197.9" stroke="#000000" stroke-width="2.1"/><line x1="1903.5" y1="163.5" x2="1932.5" y2="163.5" stroke="#000000" stroke-width="2.1"/><line x1="1903.5" y1="231.3" x2="1932.5" y2="231.3" stroke="#000000" stroke-width="2.1"/><line x1="1918" y1="186.8" x2="1918" y2="163.5" stroke="#000000" stroke-width="2.1" stroke-dasharray="17.5 11"/><line x1="1918" y1="231.3" x2="1918" y2="207.2" stroke="#000000" stroke-width="2.1" stroke-dasharray="17.5 11"/><rect x="1450.7" y="486.8" width="58.6" height="22.7" fill="none" stroke="#000000" stroke-width="2.1" stroke-linejoin="round"/><line x1="1450.7" y1="497.5" x2="1509.3" y2="497.5" stroke="#000000" stroke-width="2.1"/><line x1="1465.5" y1="466.6" x2="1494.5" y2="466.6" stroke="#000000" stroke-width="2.1"/><line x1="1465.5" y1="523.1" x2="1494.5" y2="523.1" stroke="#000000" stroke-width="2.1"/><line x1="1480" y1="486.8" x2="1480" y2="466.6" stroke="#000000" stroke-width="2.1" stroke-dasharray="17.5 11"/><line x1="1480" y1="523.1" x2="1480" y2="509.5" stroke="#000000" stroke-width="2.1" stroke-dasharray="17.5 11"/><rect x="1596.7" y="489" width="58.6" height="16.1" fill="none" stroke="#000000" stroke-width="2.1" stroke-linejoin="round"/><line x1="1596.7" y1="496.7" x2="1655.3" y2="496.7" stroke="#000000" stroke-width="2.1"/><line x1="1611.5" y1="471.6" x2="1640.5" y2="471.6" stroke="#000000" stroke-width="2.1"/><line x1="1611.5" y1="518.1" x2="1640.5" y2="518.1" stroke="#000000" stroke-width="2.1"/><line x1="1626" y1="489" x2="1626" y2="471.6" stroke="#000000" stroke-width="2.1" stroke-dasharray="17.5 11"/><line x1="1626" y1="518.1" x2="1626" y2="505.1" stroke="#000000" stroke-width="2.1" stroke-dasharray="17.5 11"/><rect x="1742.7" y="485.9" width="58.6" height="14.9" fill="none" stroke="#000000" stroke-width="2.1" stroke-linejoin="round"/><line x1="1742.7" y1="493.6" x2="1801.3" y2="493.6" stroke="#000000" stroke-width="2.1"/><line x1="1757.5" y1="467.1" x2="1786.5" y2="467.1" stroke="#000000" stroke-width="2.1"/><line x1="1757.5" y1="516.3" x2="1786.5" y2="516.3" stroke="#000000" stroke-width="2.1"/><line x1="1772" y1="485.9" x2="1772" y2="467.1" stroke="#000000" stroke-width="2.1" stroke-dasharray="17.5 11"/><line x1="1772" y1="516.3" x2="1772" y2="500.8" stroke="#000000" stroke-width="2.1" stroke-dasharray="17.5 11"/><rect x="1888.7" y="489.9" width="58.6" height="13.6" fill="none" stroke="#000000" stroke-width="2.1" stroke-linejoin="round"/><line x1="1888.7" y1="496.7" x2="1947.3" y2="496.7" stroke="#000000" stroke-width="2.1"/><line x1="1903.5" y1="470.2" x2="1932.5" y2="470.2" stroke="#000000" stroke-width="2.1"/><line x1="1903.5" y1="516" x2="1932.5" y2="516" stroke="#000000" stroke-width="2.1"/><line x1="1918" y1="489.9" x2="1918" y2="470.2" stroke="#000000" stroke-width="2.1" stroke-dasharray="17.5 11"/><line x1="1918" y1="516" x2="1918" y2="503.5" stroke="#000000" stroke-width="2.1" stroke-dasharray="17.5 11"/><rect x="1450.7" y="729.8" width="58.6" height="10.2" fill="none" stroke="#000000" stroke-width="2.1" stroke-linejoin="round"/><line x1="1450.7" y1="734.8" x2="1509.3" y2="734.8" stroke="#000000" stroke-width="2.1"/><line x1="1465.5" y1="720" x2="1494.5" y2="720" stroke="#000000" stroke-width="2.1"/><line x1="1465.5" y1="752.7" x2="1494.5" y2="752.7" stroke="#000000" stroke-width="2.1"/><line x1="1480" y1="729.8" x2="1480" y2="720" stroke="#000000" stroke-width="2.1" stroke-dasharray="17.5 11"/><line x1="1480" y1="752.7" x2="1480" y2="740" stroke="#000000" stroke-width="2.1" stroke-dasharray="17.5 11"/><rect x="1596.7" y="728" width="58.6" height="12.9" fill="none" stroke="#000000" stroke-width="2.1" stroke-linejoin="round"/><line x1="1596.7" y1="734.3" x2="1655.3" y2="734.3" stroke="#000000" stroke-width="2.1"/><line x1="1611.5" y1="710.5" x2="1640.5" y2="710.5" stroke="#000000" stroke-width="2.1"/><line x1="1611.5" y1="755.8" x2="1640.5" y2="755.8" stroke="#000000" stroke-width="2.1"/><line x1="1626" y1="728" x2="1626" y2="710.5" stroke="#000000" stroke-width="2.1" stroke-dasharray="17.5 11"/><line x1="1626" y1="755.8" x2="1626" y2="740.9" stroke="#000000" stroke-width="2.1" stroke-dasharray="17.5 11"/><rect x="1742.7" y="722.6" width="58.6" height="17.0" fill="none" stroke="#000000" stroke-width="2.1" stroke-linejoin="round"/><line x1="1742.7" y1="732.5" x2="1801.3" y2="732.5" stroke="#000000" stroke-width="2.1"/><line x1="1757.5" y1="696.2" x2="1786.5" y2="696.2" stroke="#000000" stroke-width="2.1"/><line x1="1757.5" y1="753.4" x2="1786.5" y2="753.4" stroke="#000000" stroke-width="2.1"/><line x1="1772" y1="722.6" x2="1772" y2="696.2" stroke="#000000" stroke-width="2.1" stroke-dasharray="17.5 11"/><line x1="1772" y1="753.4" x2="1772" y2="739.6" stroke="#000000" stroke-width="2.1" stroke-dasharray="17.5 11"/><rect x="1888.7" y="725.7" width="58.6" height="12.5" fill="none" stroke="#000000" stroke-width="2.1" stroke-linejoin="round"/><line x1="1888.7" y1="732.5" x2="1947.3" y2="732.5" stroke="#000000" stroke-width="2.1"/><line x1="1903.5" y1="707.4" x2="1932.5" y2="707.4" stroke="#000000" stroke-width="2.1"/><line x1="1903.5" y1="755.4" x2="1932.5" y2="755.4" stroke="#000000" stroke-width="2.1"/><line x1="1918" y1="725.7" x2="1918" y2="707.4" stroke="#000000" stroke-width="2.1" stroke-dasharray="17.5 11"/><line x1="1918" y1="755.4" x2="1918" y2="738.2" stroke="#000000" stroke-width="2.1" stroke-dasharray="17.5 11"/><text x="1460.0" y="62.4" font-family="'Liberation Serif','Times New Roman',serif" font-size="39" font-weight="bold" font-style="normal" text-anchor="start" >BCMM</text><text x="1469.0" y="363.9" font-family="'Liberation Serif','Times New Roman',serif" font-size="39" font-weight="bold" font-style="normal" text-anchor="start" >VPM</text><text x="1463.5" y="641.8" font-family="'Liberation Serif','Times New Roman',serif" font-size="39" font-weight="bold" font-style="normal" text-anchor="start" >LSM-2</text><text transform="translate(1354.7,168) rotate(-90)" font-family="'Noto Serif CJK SC','Liberation Serif',serif" font-size="41" font-style="italic">χ<tspan font-size="30" dy="-22" font-family="'Liberation Serif','Times New Roman',serif" font-style="normal">2</tspan></text><text transform="translate(1355.5,437.5) rotate(-90)" font-family="'Noto Serif CJK SC','Liberation Serif',serif" font-size="41" font-style="italic">χ<tspan font-size="30" dy="-22" font-family="'Liberation Serif','Times New Roman',serif" font-style="normal">2</tspan></text><text transform="translate(1354.5,710.5) rotate(-90)" font-family="'Noto Serif CJK SC','Liberation Serif',serif" font-size="41" font-style="italic">χ<tspan font-size="30" dy="-22" font-family="'Liberation Serif','Times New Roman',serif" font-style="normal">2</tspan></text><text x="1478.4" y="859.8" font-family="'Liberation Serif','Times New Roman',serif" font-size="46" font-weight="normal" font-style="normal" text-anchor="middle" >1</text><text x="1622.7" y="859.8" font-family="'Liberation Serif','Times New Roman',serif" font-size="46" font-weight="normal" font-style="normal" text-anchor="middle" >2</text><text x="1771.9" y="859.8" font-family="'Liberation Serif','Times New Roman',serif" font-size="46" font-weight="normal" font-style="normal" text-anchor="middle" >3</text><text x="1921.3" y="859.8" font-family="'Liberation Serif','Times New Roman',serif" font-size="46" font-weight="normal" font-style="normal" text-anchor="middle" >4</text><text x="1682.6" y="874.2" font-family="'Liberation Serif','Times New Roman',serif" font-size="46" font-weight="normal" font-style="italic" text-anchor="start" >p</text></svg></body></html>
